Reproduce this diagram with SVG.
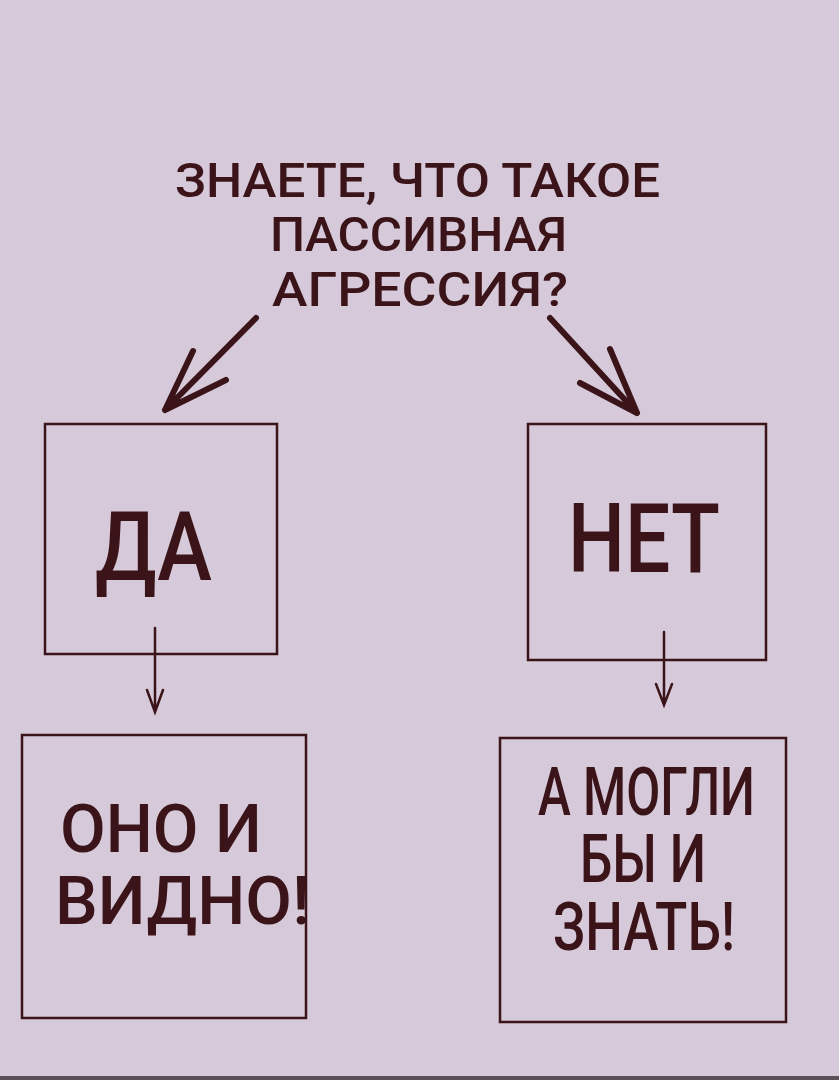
<svg xmlns="http://www.w3.org/2000/svg" width="839" height="1080" viewBox="0 0 839 1080">
<style>
.t{font-family:Roboto,"Liberation Sans",sans-serif;fill:#3a1418;font-weight:500}
.b{fill:none;stroke:#3a1418;stroke-width:2.5}
.a{fill:none;stroke:#3a1418;stroke-width:6;stroke-linecap:round;stroke-linejoin:round}
.s{fill:none;stroke:#3a1418;stroke-width:2.5;stroke-linecap:round}
</style>
<rect width="839" height="1080" fill="#d6c9d9"/>
<rect y="1076" width="839" height="4" fill="#5a5058"/>
<g id="question">
<text class="t" font-size="48" x="175" y="197" textLength="485" lengthAdjust="spacingAndGlyphs">ЗНАЕТЕ, ЧТО ТАКОЕ</text>
<text class="t" font-size="48" x="270" y="251" textLength="297" lengthAdjust="spacingAndGlyphs">ПАССИВНАЯ</text>
<text class="t" font-size="48" x="272" y="306" textLength="296" lengthAdjust="spacingAndGlyphs">АГРЕССИЯ?</text>
</g>
<g id="yes">
<rect class="b" x="45" y="424" width="232" height="230"/>
<text class="t" font-size="96" x="95" y="580" textLength="117" lengthAdjust="spacingAndGlyphs">ДА</text>
</g>
<g id="no">
<rect class="b" x="528" y="424" width="238" height="236"/>
<text class="t" font-size="96" x="568" y="572" textLength="152" lengthAdjust="spacingAndGlyphs">НЕТ</text>
</g>
<g id="seen">
<rect class="b" x="22" y="735" width="284" height="283"/>
<text class="t" font-size="66" x="60" y="852" textLength="202" lengthAdjust="spacingAndGlyphs">ОНО И</text>
<text class="t" font-size="66" x="55" y="924" textLength="255" lengthAdjust="spacingAndGlyphs">ВИДНО!</text>
</g>
<g id="know">
<rect class="b" x="500" y="738" width="286" height="284"/>
<text class="t" font-size="66" x="538" y="815" textLength="217" lengthAdjust="spacingAndGlyphs">А МОГЛИ</text>
<text class="t" font-size="66" x="580" y="882" textLength="126" lengthAdjust="spacingAndGlyphs">БЫ И</text>
<text class="t" font-size="66" x="553" y="950" textLength="182" lengthAdjust="spacingAndGlyphs">ЗНАТЬ!</text>
</g>
<g id="connectors">
<path class="a" d="M256 318 L165 410 M193 351 L165 410 L226 380"/>
<path class="a" d="M550 318 L637 413 M610 349 L637 413 L580 383"/>
<path class="s" d="M155 628 V712 M147 690 L155 712 L163 690"/>
<path class="s" d="M664 632 V705 M656 684 L664 705 L672 684"/>
</g>
</svg>
